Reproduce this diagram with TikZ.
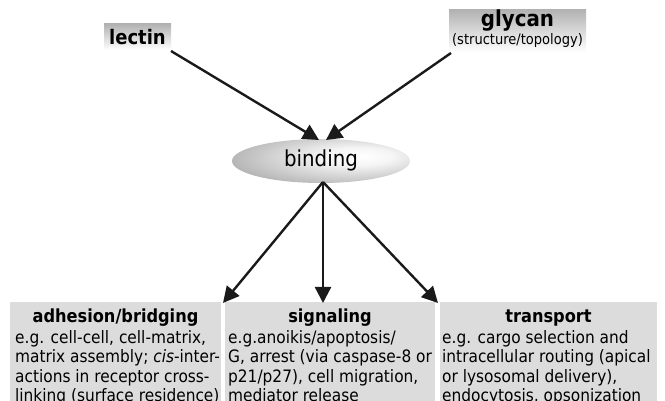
\documentclass[tikz,border=0pt]{standalone}
\usepackage{fontspec}
\setmainfont{DejaVu Sans Condensed}
\usetikzlibrary{shapes.geometric,arrows.meta}
\definecolor{boxgray}{HTML}{DCDCDC}
\definecolor{arrowblack}{HTML}{1A1A1A}
\pgfdeclareradialshading{bindsh}{\pgfpoint{12bp}{6bp}}{color(0bp)=(white); color(10bp)=(white!96!black); color(50bp)=(black!48); color(80bp)=(black!40)}
\tikzset{
  conn/.style={draw=arrowblack, line width=2.4pt, -{Triangle[length=16pt,width=16pt]}},
  topbox/.style={inner sep=0pt, top color=black!30, bottom color=white, draw=none},
  outbox/.style={fill=boxgray, draw=none, inner sep=0pt, anchor=north west},
  head/.style={font=\fontsize{18}{20}\selectfont\bfseries, anchor=base, inner sep=0pt},
  line/.style={font=\fontsize{17.1}{19.5}\selectfont, anchor=base west, inner sep=0pt}
}
\begin{document}
\begin{tikzpicture}[x=1pt,y=-1pt]
\useasboundingbox (0,0) rectangle (665,401);
\clip (0,0) rectangle (665,401);
% top boxes
\node[topbox, minimum width=67pt, minimum height=26pt] (lectin) at (137.5,37) {};
\node[font=\fontsize{20}{22}\selectfont\bfseries, anchor=base, inner sep=0pt] (lectintext) at (137.5,45) {lectin};
\node[topbox, minimum width=137pt, minimum height=42pt] (glycan) at (517.5,31) {};
\node[font=\fontsize{22}{24}\selectfont\bfseries, anchor=base, inner sep=0pt] (glycantext) at (517.5,27) {glycan};
\node[font=\fontsize{14.5}{16}\selectfont, anchor=base, inner sep=0pt] (glycansub) at (517.5,45) {(structure/topology)};
% binding
\node[ellipse, minimum width=178pt, minimum height=44pt, inner sep=0pt, shading=bindsh] (bind) at (321,161) {};
\node[font=\fontsize{22}{24}\selectfont, anchor=base, inner sep=0pt] (bindtext) at (321,167) {binding};
% output boxes
\node[outbox, minimum width=211pt, minimum height=130pt] (adh) at (10,302) {};
\node[outbox, minimum width=210pt, minimum height=130pt] (sig) at (225,302) {};
\node[outbox, minimum width=217pt, minimum height=130pt] (tra) at (440,302) {};
\node[head] (adhh) at (115.5,323) {adhesion/bridging};
\node[head] (sigh) at (330,323) {signaling};
\node[head] (trah) at (548.5,323) {transport};
% left box text
\node[line] (a1) at (15,343) {e.g. cell-cell, cell-matrix,};
\node[line] (a2) at (15,362.5) {matrix assembly; \textit{cis}-inter-};
\node[line] (a3) at (15,382) {actions in receptor cross-};
\node[line] (a4) at (15,401.5) {linking (surface residence)};
% middle box text
\node[line] (s1) at (228,343) {e.g.anoikis/apoptosis/};
\node[line] (s2) at (228,362.5) {G, arrest (via caspase-8 or};
\node[line] (s3) at (228,382) {p21/p27), cell migration,};
\node[line] (s4) at (228,401.5) {mediator release};
% right box text
\node[line] (t1) at (442,343) {e.g. cargo selection and};
\node[line] (t2) at (442,362.5) {intracellular routing (apical};
\node[line] (t3) at (442,382) {or lysosomal delivery),};
\node[line] (t4) at (442,401.5) {endocytosis, opsonization};
% connector endpoints
\coordinate (lectinout) at (171,51);
\coordinate (glycanout) at (451,53);
\coordinate (bindinL) at (319,140);
\coordinate (bindinR) at (326,140);
\coordinate (bindout) at (323,182);
\coordinate (adhin) at (223,303);
\coordinate (sigin) at (323,303);
\coordinate (train) at (438,303);
\draw[conn] (lectinout) -- (bindinL);
\draw[conn] (glycanout) -- (bindinR);
\draw[conn] (bindout) -- (adhin);
\draw[conn] (bindout) -- (sigin);
\draw[conn] (bindout) -- (train);
\end{tikzpicture}
\end{document}
